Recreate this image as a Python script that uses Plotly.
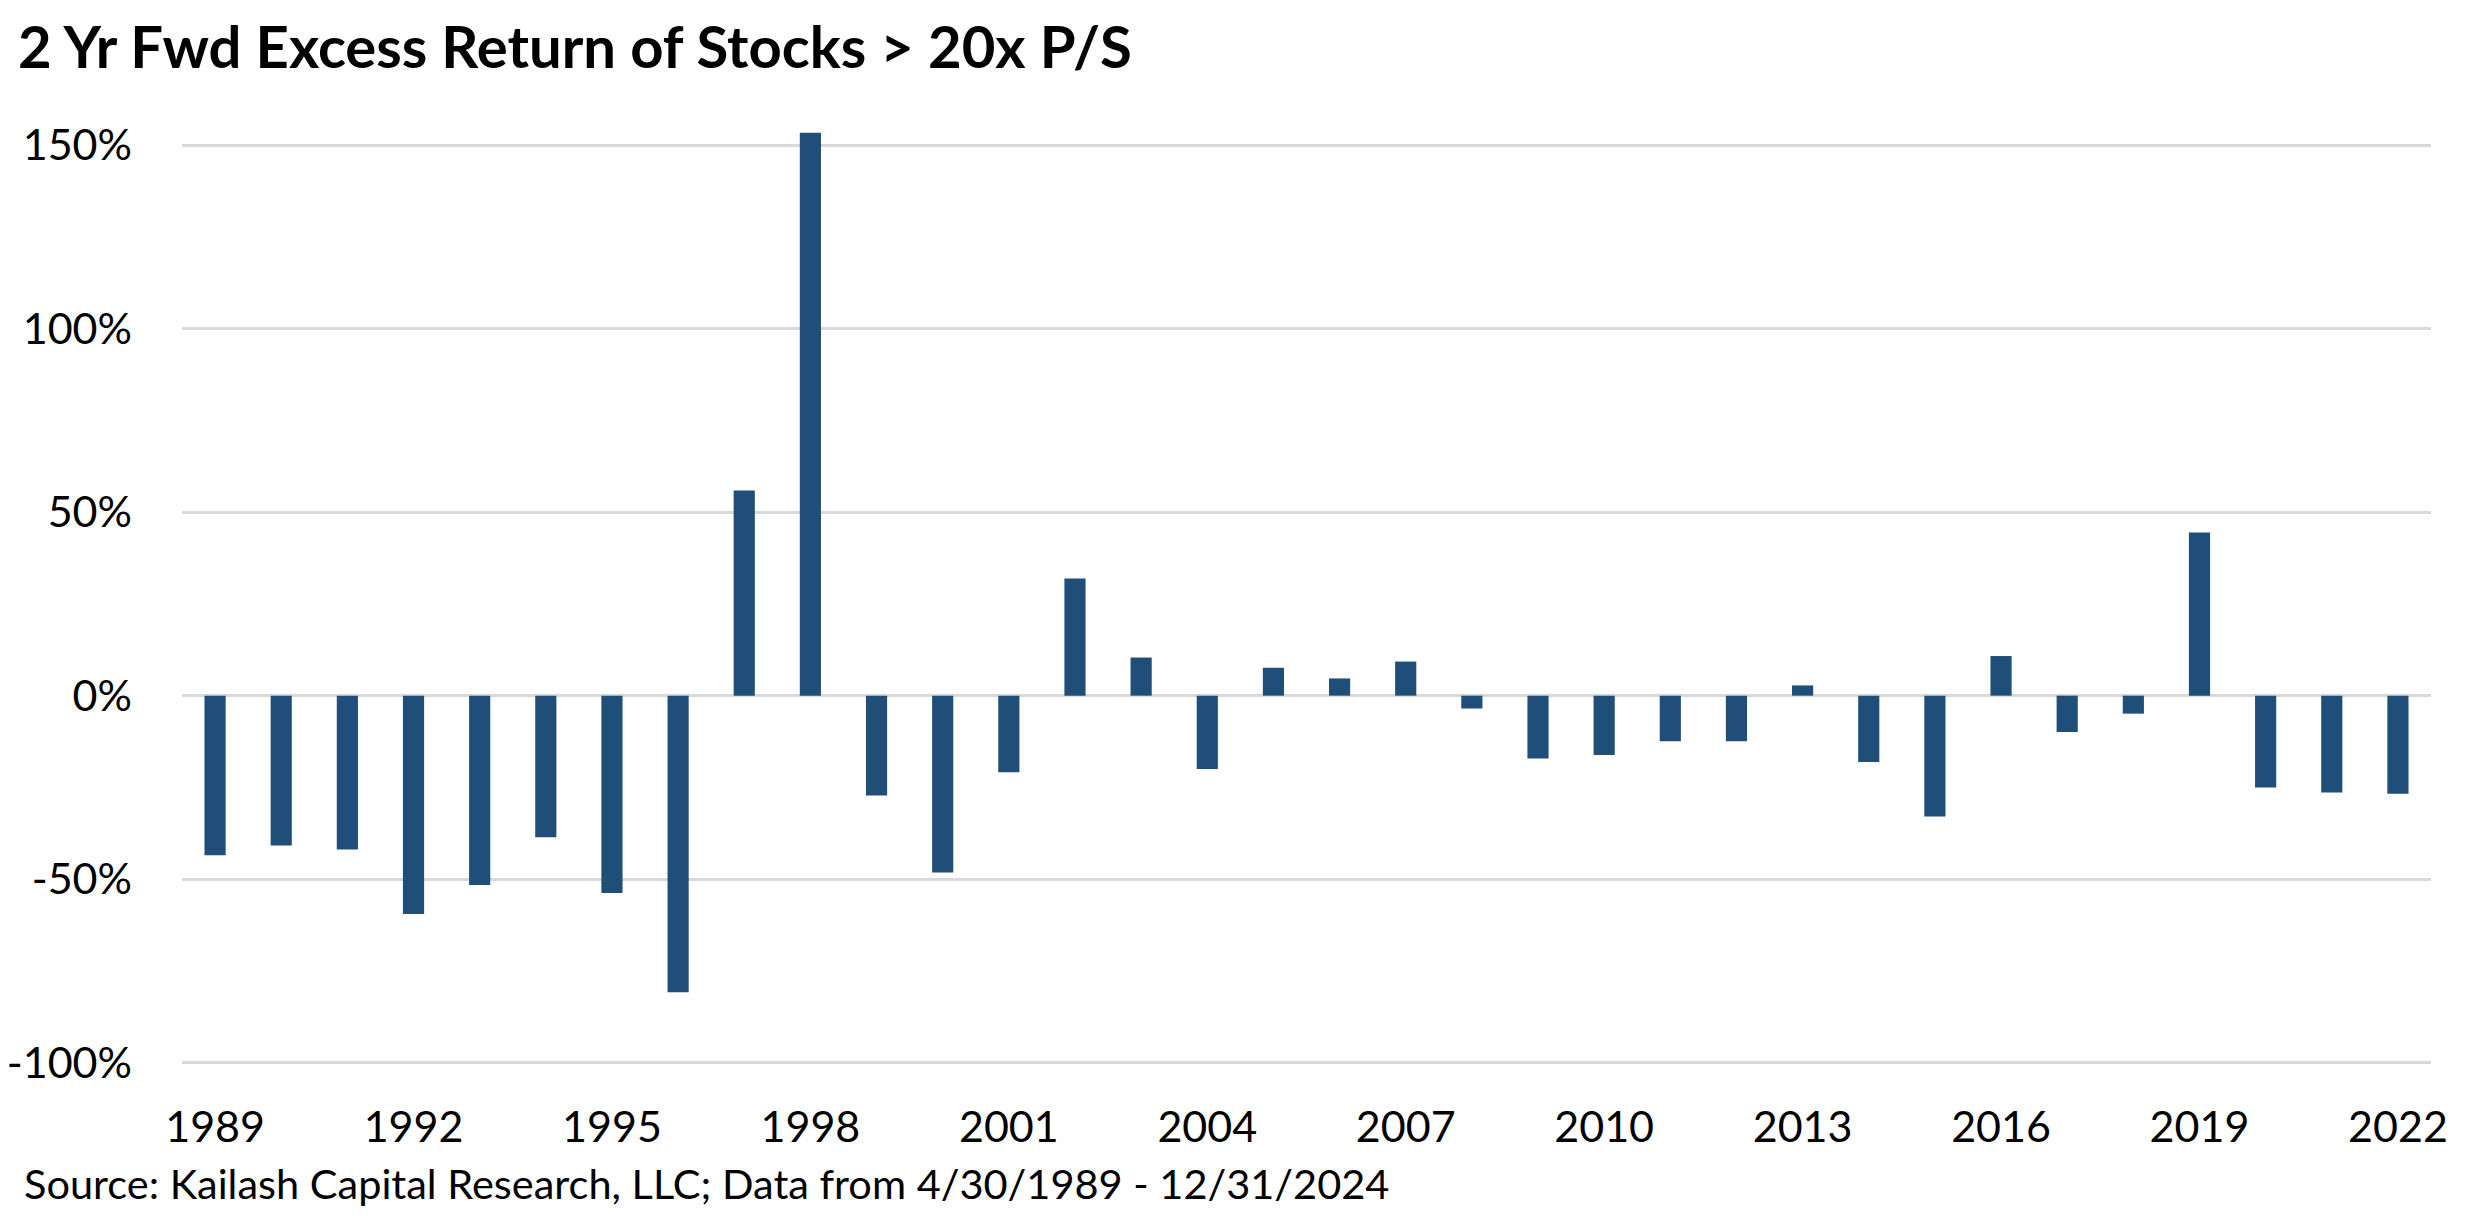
import plotly.graph_objects as go

years = ["1989", "1990", "1991", "1992", "1993", "1994", "1995", "1996", "1997", "1998",
         "1999", "2000", "2001", "2002", "2003", "2004", "2005", "2006", "2007", "2008",
         "2009", "2010", "2011", "2012", "2013", "2014", "2015", "2016", "2017", "2018",
         "2019", "2020", "2021", "2022"]

excess_return_pct = [-43.5, -40.8, -41.9, -59.5, -51.6, -38.6, -53.8, -80.8, 55.9, 153.4,
                     -27.2, -48.2, -20.9, 31.9, 10.4, -20.0, 7.6, 4.7, 9.3, -3.5,
                     -17.1, -16.2, -12.4, -12.4, 2.8, -18.1, -32.9, 10.8, -9.9, -4.9,
                     44.5, -25.0, -26.4, -26.7]

x_tick_labels = ["1989", "1992", "1995", "1998", "2001", "2004", "2007", "2010",
                 "2013", "2016", "2019", "2022"]

y_tick_values = [-1.0, -0.5, 0.0, 0.5, 1.0, 1.5]
y_tick_labels = ["-100%", "-50%", "0%", "50%", "100%", "150%"]

title_text = "2 Yr Fwd Excess Return of Stocks > 20x P/S"
source_text = "Source: Kailash Capital Research, LLC; Data from 4/30/1989 - 12/31/2024"

FONT = "Lato, Liberation Sans, Arial, sans-serif"
BAR_COLOR = "#1F4E79"
GRID_COLOR = "#D9D9D9"

# the page body has an 8px default margin; the figure is sized to fit inside it
OFF = 8
W, H = 2475 - OFF, 1221 - OFF
L, R, T, B = 182 - OFF, 44, 124 - OFF, 154

fig = go.Figure()
fig.add_trace(go.Bar(
    x=years,
    y=[v / 100 for v in excess_return_pct],
    marker=dict(color=BAR_COLOR, line=dict(width=0)),
    showlegend=False,
))

fig.update_layout(
    width=W, height=H,
    margin=dict(l=L, r=R, t=T, b=B, pad=0, autoexpand=False),
    paper_bgcolor="white",
    plot_bgcolor="white",
    bargap=0.68,
    font=dict(family=FONT, color="black", size=43),
    title=dict(
        text="<b>" + title_text + "</b>",
        font=dict(family=FONT, size=58, color="black"),
        xref="container", yref="container",
        x=(18 - OFF) / W, xanchor="left",
        y=1 - (48 - OFF) / H, yanchor="middle",
    ),
    xaxis=dict(
        type="category",
        automargin=False,
        tickmode="array",
        tickvals=x_tick_labels,
        ticktext=x_tick_labels,
        showgrid=False,
        showline=False,
        zeroline=False,
        ticks="",
        tickfont=dict(family=FONT, size=43, color="black"),
        ticklabelstandoff=31,
    ),
    yaxis=dict(
        automargin=False,
        range=[-1.012, 1.558],
        tickmode="array",
        tickvals=y_tick_values,
        ticktext=y_tick_labels,
        showgrid=True,
        gridcolor=GRID_COLOR,
        gridwidth=2.5,
        zeroline=True,
        zerolinecolor=GRID_COLOR,
        zerolinewidth=2.5,
        showline=False,
        ticks="",
        tickfont=dict(family=FONT, size=43, color="black"),
        ticklabelstandoff=49,
    ),
    annotations=[dict(
        text=source_text,
        xref="paper", yref="paper",
        x=(22 - OFF - L) / (W - L - R), xanchor="left",
        y=(H - B - (1183 - OFF)) / (H - T - B), yanchor="middle",
        showarrow=False,
        font=dict(family=FONT, size=41.5, color="black"),
    )],
)

fig.write_html("out.html")
